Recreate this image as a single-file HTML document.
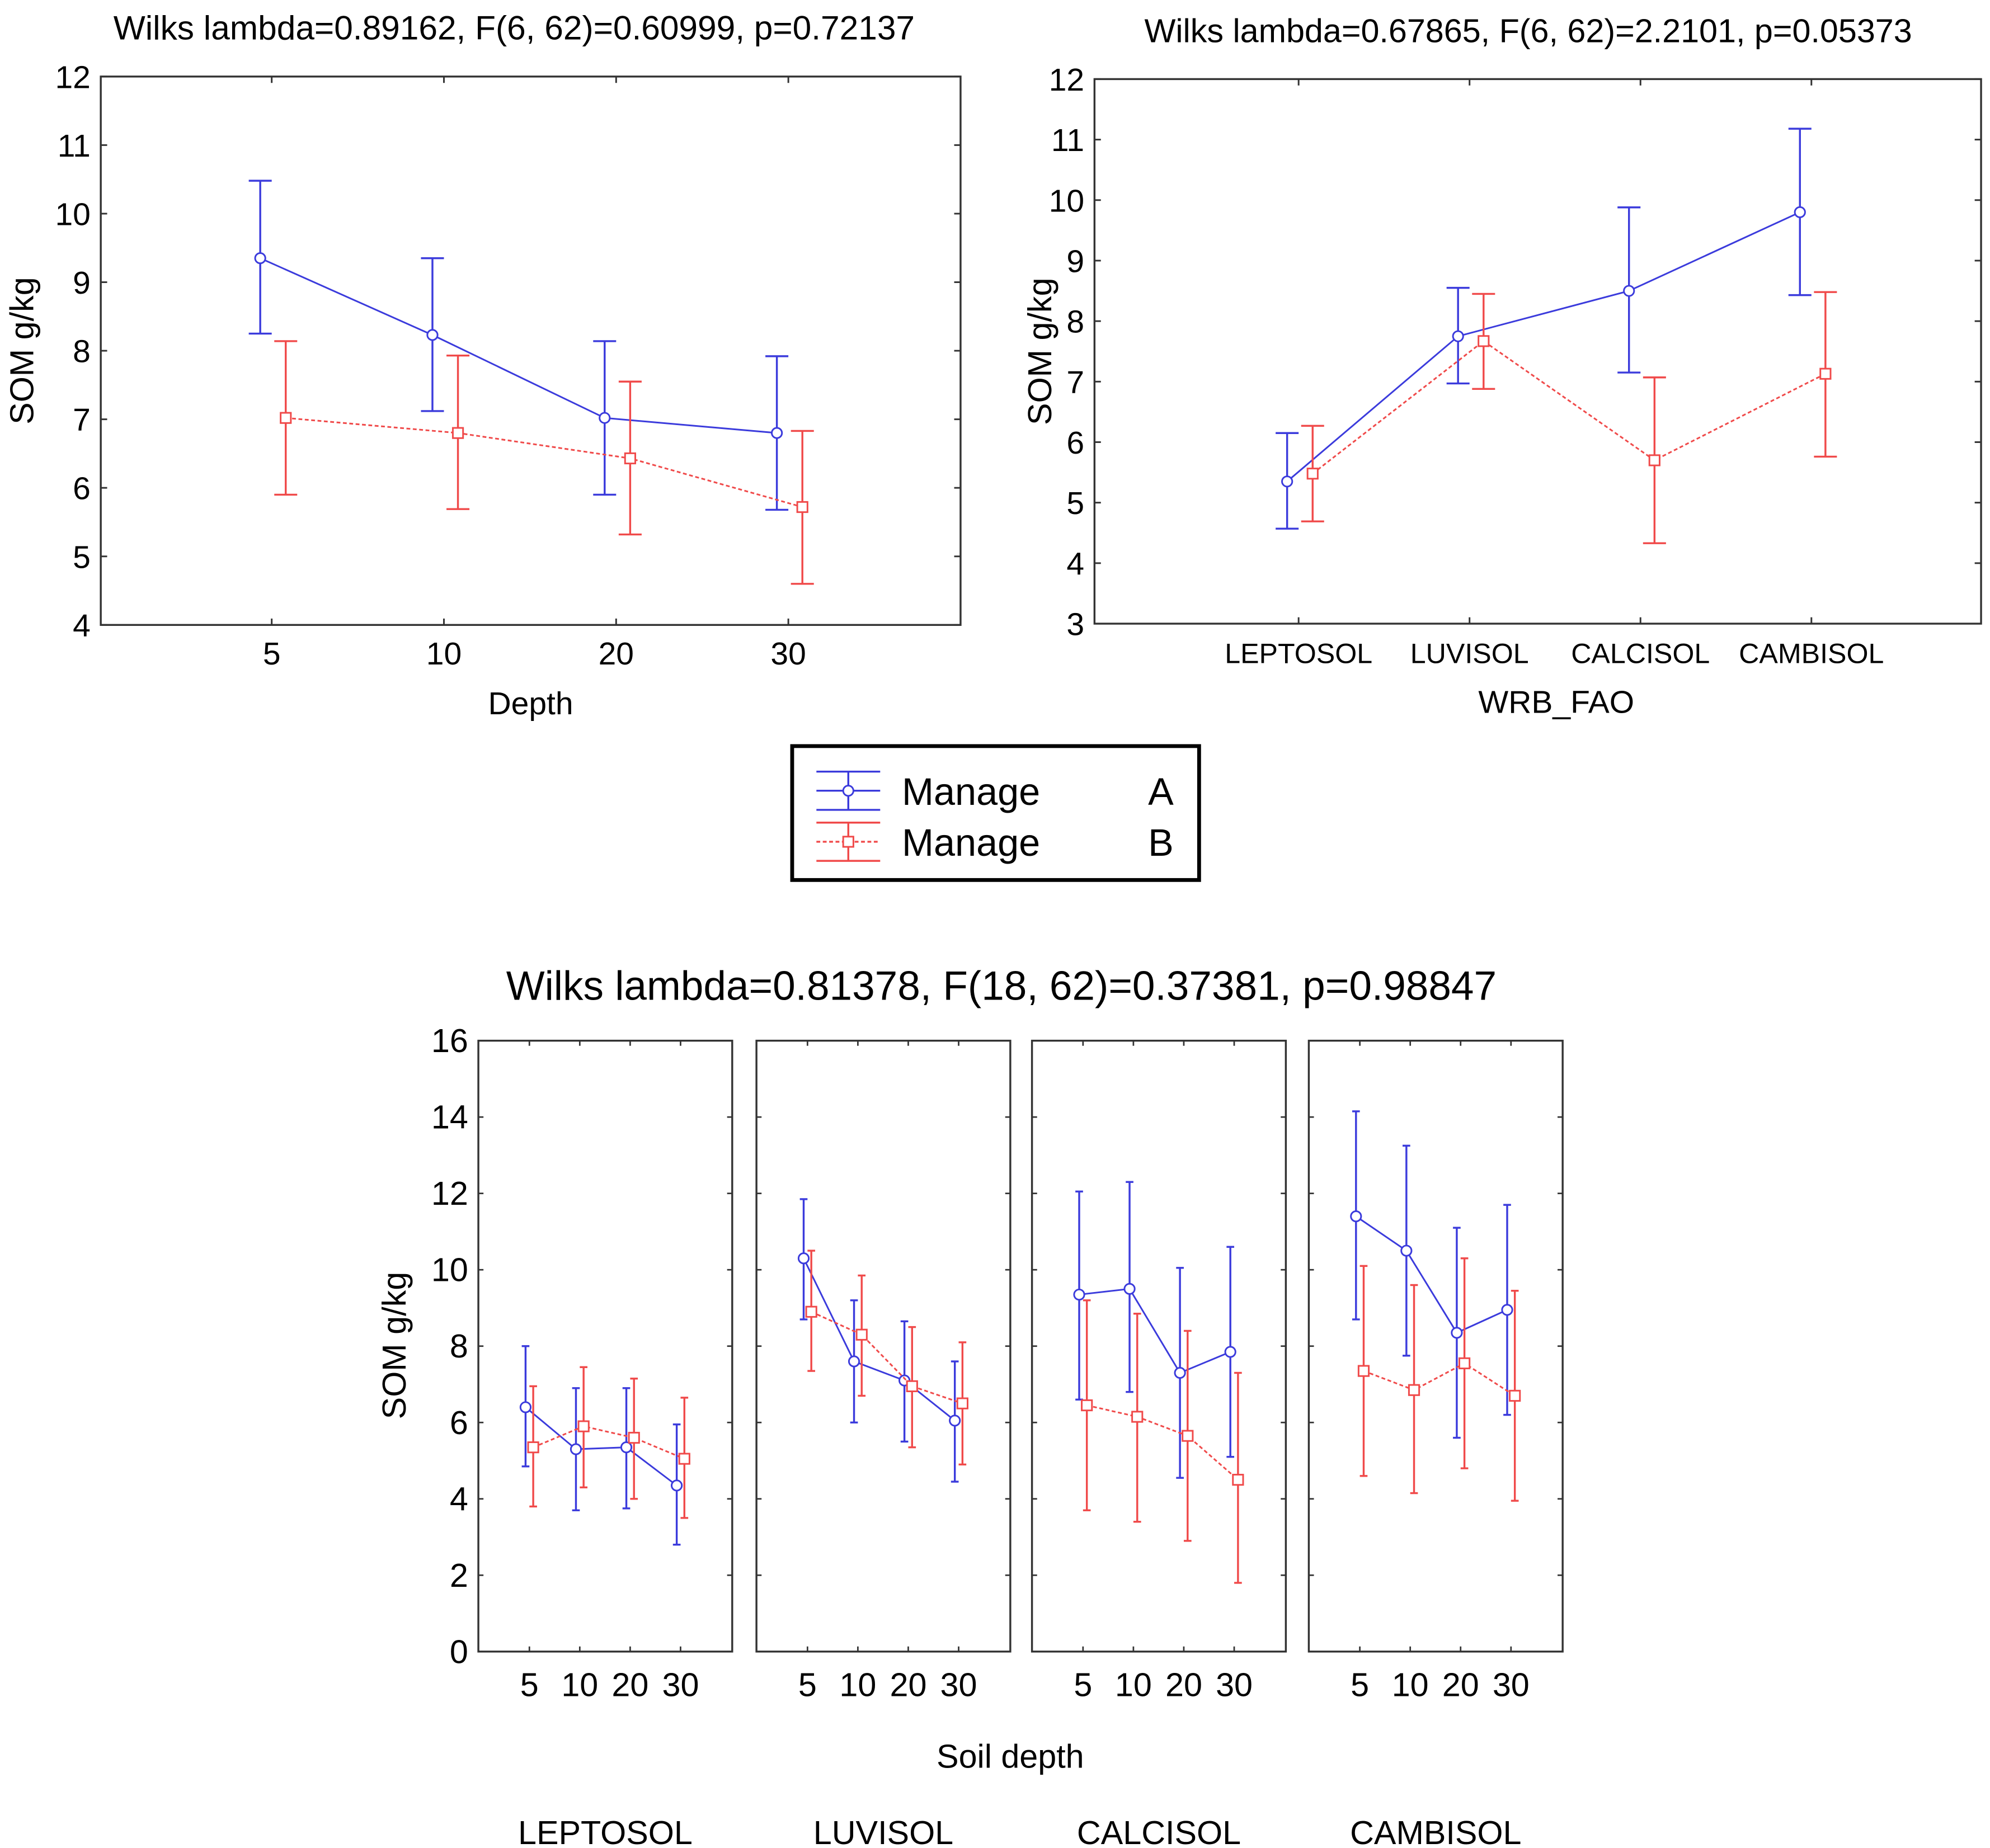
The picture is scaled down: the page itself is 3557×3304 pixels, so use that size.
<!DOCTYPE html>
<html><head><meta charset="utf-8"><style>
html,body{margin:0;padding:0;background:#fff;}
svg{display:block;}
text{font-family:"Liberation Sans",Arial,sans-serif;fill:#000;}
</style></head><body>
<svg id="fig" xmlns="http://www.w3.org/2000/svg" width="3557" height="3304" viewBox="0 0 1560 1449">
<rect x="0" y="0" width="1560" height="1449" fill="#fff"/>
<g id="c1"></g>
<g id="c2"></g>
<g id="legend">
  <rect x="621" y="585" width="319" height="105" fill="#fff" stroke="#000" stroke-width="3"/>
  <g>
    <line x1="640" y1="620" x2="690" y2="620" stroke="#3b3bdc" stroke-width="1.5"/>
    <line x1="665" y1="605" x2="665" y2="635" stroke="#3b3bdc" stroke-width="1.5"/>
    <line x1="640" y1="605" x2="690" y2="605" stroke="#3b3bdc" stroke-width="1.5"/>
    <line x1="640" y1="635" x2="690" y2="635" stroke="#3b3bdc" stroke-width="1.5"/>
    <circle cx="665" cy="620" r="4" fill="#fff" stroke="#3b3bdc" stroke-width="1.3"/>
    <text x="707" y="631" font-size="30">Manage</text><text x="920" y="631" font-size="30" text-anchor="end">A</text>
  </g>
  <g>
    <line x1="640" y1="660" x2="690" y2="660" stroke="#f04a4a" stroke-width="1.5" stroke-dasharray="3,2"/>
    <line x1="665" y1="645" x2="665" y2="675" stroke="#f04a4a" stroke-width="1.5"/>
    <line x1="640" y1="645" x2="690" y2="645" stroke="#f04a4a" stroke-width="1.5"/>
    <line x1="640" y1="675" x2="690" y2="675" stroke="#f04a4a" stroke-width="1.5"/>
    <rect x="661" y="656" width="8" height="8" fill="#fff" stroke="#f04a4a" stroke-width="1.3"/>
    <text x="707" y="671" font-size="30">Manage</text><text x="920" y="671" font-size="30" text-anchor="end">B</text>
  </g>
</g>
<g id="c3"></g>
</svg>
<script>
// Chart 1: Depth
const depthCats = ["5","10","20","30"];
const c1A = [9.35, 8.23, 7.02, 6.8];
const c1ALo = [8.25, 7.12, 5.9, 5.68];
const c1AHi = [10.48, 9.35, 8.14, 7.92];
const c1B = [7.02, 6.8, 6.43, 5.72];
const c1BLo = [5.9, 5.69, 5.32, 4.6];
const c1BHi = [8.14, 7.93, 7.55, 6.83];
const c1Ticks = [4,5,6,7,8,9,10,11,12];
// Chart 2: WRB_FAO
const soilCats = ["LEPTOSOL","LUVISOL","CALCISOL","CAMBISOL"];
const c2A = [5.35, 7.75, 8.5, 9.8];
const c2ALo = [4.57, 6.97, 7.15, 8.43];
const c2AHi = [6.15, 8.55, 9.88, 11.18];
const c2B = [5.48, 7.67, 5.7, 7.13];
const c2BLo = [4.69, 6.88, 4.33, 5.76];
const c2BHi = [6.27, 8.45, 7.07, 8.48];
const c2Ticks = [3,4,5,6,7,8,9,10,11,12];
// Chart 3: soil x depth
const c3A = [[6.4,5.3,5.35,4.35],[10.3,7.6,7.1,6.05],[9.35,9.5,7.3,7.85],[11.4,10.5,8.35,8.95]];
const c3ALo = [[4.85,3.7,3.75,2.8],[8.7,6.0,5.5,4.45],[6.6,6.8,4.55,5.1],[8.7,7.75,5.6,6.2]];
const c3AHi = [[8.0,6.9,6.9,5.95],[11.85,9.2,8.65,7.6],[12.05,12.3,10.05,10.6],[14.15,13.25,11.1,11.7]];
const c3B = [[5.35,5.9,5.6,5.05],[8.9,8.3,6.95,6.5],[6.45,6.15,5.65,4.5],[7.35,6.85,7.55,6.7]];
const c3BLo = [[3.8,4.3,4.0,3.5],[7.35,6.7,5.35,4.9],[3.7,3.4,2.9,1.8],[4.6,4.15,4.8,3.95]];
const c3BHi = [[6.95,7.45,7.15,6.65],[10.5,9.85,8.5,8.1],[9.2,8.85,8.4,7.3],[10.1,9.6,10.3,9.45]];
const c3Ticks = [0,2,4,6,8,10,12,14,16];

const NS="http://www.w3.org/2000/svg";
const BLUE="#3b3bdc", RED="#f04a4a";
function mk(p,tag,at,txt){const e=document.createElementNS(NS,tag);for(const k in at)e.setAttribute(k,at[k]);if(txt!==undefined)e.textContent=txt;p.appendChild(e);return e;}

function series(g,xs,vals,lo,hi,ys,color,dash,isSq,cap,name){
  const sg=mk(g,'g',{});
  
  
  const pts=vals.map((v,i)=>xs(i)+','+ys(v)).join(' ');
  const pl=mk(sg,'polyline',{points:pts,fill:'none',stroke:color,'stroke-width':1.3});
  if(dash)pl.setAttribute('stroke-dasharray','3,2');
  vals.forEach((v,i)=>{
    const x=xs(i);
    const eb=mk(sg,'g',{});
    
    
    mk(eb,'line',{x1:x,x2:x,y1:ys(lo[i]),y2:ys(hi[i]),stroke:color,'stroke-width':1.5});
    mk(eb,'line',{x1:x-cap,x2:x+cap,y1:ys(lo[i]),y2:ys(lo[i]),stroke:color,'stroke-width':1.5});
    mk(eb,'line',{x1:x-cap,x2:x+cap,y1:ys(hi[i]),y2:ys(hi[i]),stroke:color,'stroke-width':1.5});
    let m;
    if(isSq)m=mk(sg,'rect',{x:x-4,y:ys(v)-4,width:8,height:8,fill:'#fff',stroke:color,'stroke-width':1.3});
    else m=mk(sg,'circle',{cx:x,cy:ys(v),r:4,fill:'#fff',stroke:color,'stroke-width':1.3});
    
    
  });
}

function simpleChart(g,o){
  const {L,R,T,B,ymin,ymax,ticks,cats,cx0,dx,title,titleX,titleY,xtitle,xtX,ytX,A,ALo,AHi,Bv,BLo,BHi}=o;
  const ys=v=>B-(v-ymin)/(ymax-ymin)*(B-T);
  const t=mk(g,'text',{x:titleX,y:titleY,'font-size':o.tfs,'text-anchor':'middle'},title);
  
  
  const box=mk(g,'rect',{x:L,y:T,width:R-L,height:B-T,fill:'none',stroke:'#333','stroke-width':1.5});
  
  
  ticks.forEach(v=>{
    mk(g,'line',{x1:L,x2:L+5,y1:ys(v),y2:ys(v),stroke:'#333','stroke-width':1.3});
    mk(g,'line',{x1:R-5,x2:R,y1:ys(v),y2:ys(v),stroke:'#333','stroke-width':1.3});
    const tl=mk(g,'text',{x:L-8,y:ys(v)+9,'font-size':25,'text-anchor':'end'},String(v));
    
    
  });
  cats.forEach((c,i)=>{
    const x=cx0+i*dx;
    mk(g,'line',{x1:x,x2:x,y1:B,y2:B-5,stroke:'#333','stroke-width':1.3});
    mk(g,'line',{x1:x,x2:x,y1:T,y2:T+5,stroke:'#333','stroke-width':1.3});
    const tl=mk(g,'text',{x:x,y:B+31,'font-size':o.xfs,'text-anchor':'middle'},c);
    
    
  });
  const xt=mk(g,'text',{x:xtX,y:B+70,'font-size':25,'text-anchor':'middle'},xtitle);
  
  
  const yt=mk(g,'text',{x:0,y:0,'font-size':26,'text-anchor':'middle',transform:`translate(${ytX},${(T+B)/2}) rotate(-90)`},'SOM g/kg');
  
  
  series(g,i=>cx0+i*dx-9,A,ALo,AHi,ys,BLUE,false,false,9,'series-manage-a');
  series(g,i=>cx0+i*dx+11,Bv,BLo,BHi,ys,RED,true,true,9,'series-manage-b');
}

simpleChart(document.getElementById('c1'),{L:79,R:753,T:60,B:490,ymin:4,ymax:12,ticks:c1Ticks,cats:depthCats,cx0:213,dx:135,
  title:'Wilks lambda=0.89162, F(6, 62)=0.60999, p=0.72137',titleX:403,titleY:31,tfs:26.5,xtitle:'Depth',xtX:416,ytX:26,xfs:25,
  A:c1A,ALo:c1ALo,AHi:c1AHi,Bv:c1B,BLo:c1BLo,BHi:c1BHi});
simpleChart(document.getElementById('c2'),{L:858,R:1553,T:62,B:489,ymin:3,ymax:12,ticks:c2Ticks,cats:soilCats,cx0:1018,dx:134,
  title:'Wilks lambda=0.67865, F(6, 62)=2.2101, p=0.05373',titleX:1198,titleY:33,tfs:26,xtitle:'WRB_FAO',xtX:1220,ytX:824,xfs:22,
  A:c2A,ALo:c2ALo,AHi:c2AHi,Bv:c2B,BLo:c2BLo,BHi:c2BHi});

// Chart 3
(function(){
  const g=document.getElementById('c3');
  const T=816,B=1295,ymin=0,ymax=16;
  const ys=v=>B-(v-ymin)/(ymax-ymin)*(B-T);
  const panelL=[375,593,809,1026], PW=199;
  const t=mk(g,'text',{x:785,y:784,'font-size':32,'text-anchor':'middle'},'Wilks lambda=0.81378, F(18, 62)=0.37381, p=0.98847');
  
  
  c3Ticks.forEach(v=>{
    const tl=mk(g,'text',{x:367,y:ys(v)+9,'font-size':26,'text-anchor':'end'},String(v));
    
    
  });
  const yt=mk(g,'text',{x:0,y:0,'font-size':26,'text-anchor':'middle',transform:`translate(318,1055) rotate(-90)`},'SOM g/kg');
  
  
  const st=mk(g,'text',{x:792,y:1386,'font-size':26,'text-anchor':'middle'},'Soil depth');
  
  
  soilCats.forEach((s,p)=>{
    const L=panelL[p];
    const pg=mk(g,'g',{});
    
    
    mk(pg,'rect',{x:L,y:T,width:PW,height:B-T,fill:'none',stroke:'#333','stroke-width':1.5});
    c3Ticks.forEach(v=>{
      mk(pg,'line',{x1:L,x2:L+4,y1:ys(v),y2:ys(v),stroke:'#333','stroke-width':1.2});
      mk(pg,'line',{x1:L+PW-4,x2:L+PW,y1:ys(v),y2:ys(v),stroke:'#333','stroke-width':1.2});
    });
    const xs=i=>L+40+i*39.5;
    depthCats.forEach((c,i)=>{
      mk(pg,'line',{x1:xs(i),x2:xs(i),y1:B,y2:B-4,stroke:'#333','stroke-width':1.2});
      mk(pg,'line',{x1:xs(i),x2:xs(i),y1:T,y2:T+4,stroke:'#333','stroke-width':1.2});
      const tl=mk(pg,'text',{x:xs(i),y:B+35,'font-size':26,'text-anchor':'middle'},c);
      
      
    });
    const sl=mk(pg,'text',{x:L+PW/2,y:1446,'font-size':26,'text-anchor':'middle'},s);
    
    
    series(pg,i=>xs(i)-3,c3A[p],c3ALo[p],c3AHi[p],ys,BLUE,false,false,3,'series-manage-a');
    series(pg,i=>xs(i)+3,c3B[p],c3BLo[p],c3BHi[p],ys,RED,true,true,3,'series-manage-b');
  });
})();
</script>
</body></html>
